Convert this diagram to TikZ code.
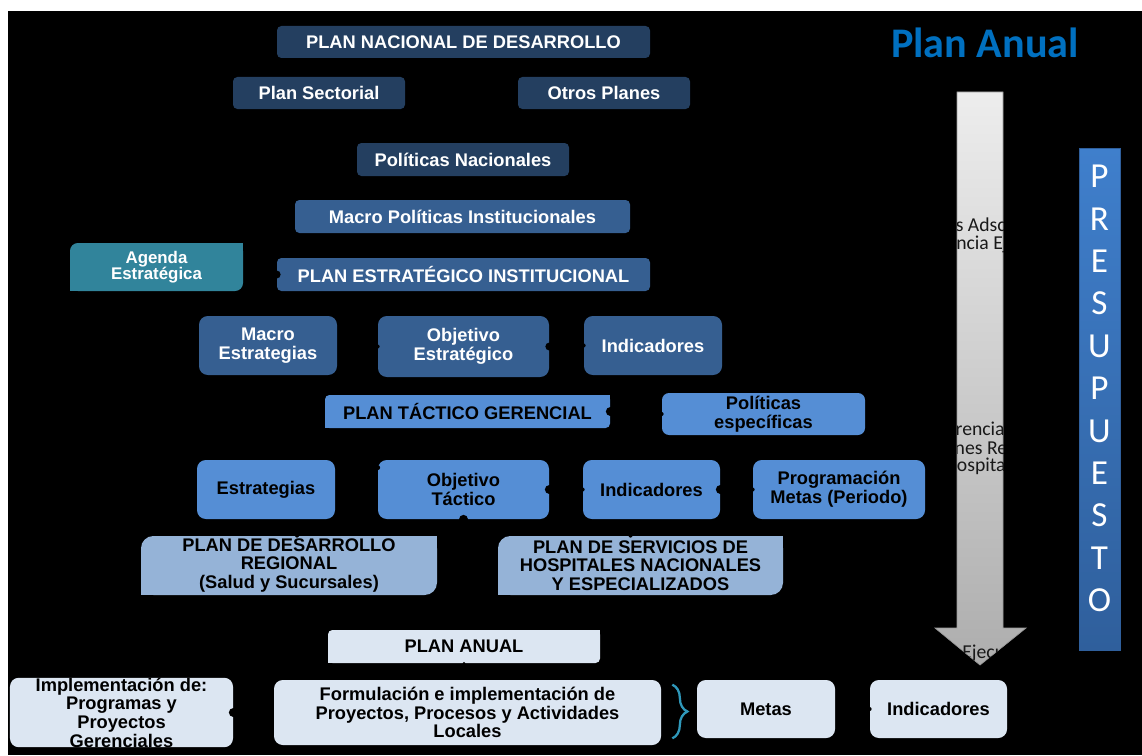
\documentclass[tikz,border=0pt]{standalone}
\usepackage{fontspec}
\setmainfont{Liberation Sans}
\newfontfamily\calibri{Carlito}
\usetikzlibrary{positioning,calc,decorations.pathreplacing}

\definecolor{darkplan}{HTML}{243F60}
\definecolor{midplan}{HTML}{365F91}
\definecolor{tealplan}{HTML}{31849B}
\definecolor{tacplan}{HTML}{558ED5}
\definecolor{regplan}{HTML}{95B3D7}
\definecolor{anualplan}{HTML}{DCE6F2}
\definecolor{braceteal}{HTML}{2F98BA}
\definecolor{titleblue}{HTML}{0070C0}
\definecolor{prestop}{HTML}{3F7FCC}
\definecolor{presbottom}{HTML}{2F5F9C}

% fill two corners square again (diagonal rounded boxes)
\newcommand\sharpcorners[3]{%
  \fill[#2] (#1.north east) rectangle ++(-#3,#3);
  \fill[#2] (#1.south west) rectangle ++(#3,-#3);}

\begin{document}
\begin{tikzpicture}[x=1cm, y=-1cm,
  plan/.style={fill=#1, text=white, rounded corners=2.5pt, minimum height=0.64cm, inner sep=0pt, align=center, font=\fontsize{10.4}{10.6}\selectfont\bfseries},
  block/.style={plan=#1, rounded corners=5pt, minimum height=1.18cm},
  notch/.style={fill=black},
  fragment/.style={font=\calibri\fontsize{11.2}{11}\selectfont, text=black!90, inner sep=0pt}
]
  \useasboundingbox[fill=white] (0,0) rectangle (22.84,15.10);
  \fill[black] (0.16,0.22) rectangle (22.84,15.10);

  % Plan Anual title
  \node[font=\calibri\bfseries\fontsize{24}{24}\selectfont, text=titleblue] (titulo) at (19.70,0.86) {Plan Anual};

  % national level
  \node[plan=darkplan, minimum width=7.46cm] (pnd) at (9.27,0.84) {PLAN NACIONAL DE DESARROLLO};
  \node[plan=darkplan, minimum width=3.44cm] (sectorial) at (6.38,1.86) {Plan Sectorial};
  \node[plan=darkplan, minimum width=3.44cm] (otros) at (12.08,1.86) {Otros Planes};
  \node[plan=darkplan, minimum width=4.24cm, minimum height=0.66cm] (polnac) at (9.26,3.19) {Políticas Nacionales};
  \node[plan=midplan, minimum width=6.70cm, minimum height=0.66cm] (macropol) at (9.25,4.33) {Macro Políticas Institucionales};

  % strategic level
  \node[plan=tealplan, rounded corners=4.5pt, minimum width=3.46cm, minimum height=0.96cm, font=\fontsize{9.6}{9.2}\selectfont\bfseries] (agenda) at (3.13,5.34) {Agenda\\Estratégica};
  \node[plan=midplan, minimum width=7.46cm, minimum height=0.66cm] (pei) at (9.27,5.49) {PLAN ESTRATÉGICO INSTITUCIONAL};
  \node[block=midplan, minimum width=2.76cm] (macroest) at (5.36,6.91) {Macro\\Estrategias};
  \node[block=midplan, minimum width=3.42cm, minimum height=1.22cm] (objest) at (9.27,6.93) {Objetivo\\Estratégico};
  \node[block=midplan, minimum width=2.76cm] (ind1) at (13.06,6.91) {Indicadores};

  % tactical level
  \node[plan=tacplan, text=black, minimum width=5.70cm, minimum height=0.66cm] (ptg) at (9.35,8.23) {PLAN TÁCTICO GERENCIAL};
  \node[plan=tacplan, text=black, rounded corners=4pt, minimum width=4.06cm, minimum height=0.84cm] (polesp) at (15.27,8.28) {Políticas\\específicas};
  \node[block=tacplan, text=black, minimum width=2.76cm] (estr) at (5.32,9.79) {Estrategias};
  \node[block=tacplan, text=black, minimum width=3.42cm] (objtac) at (9.27,9.79) {Objetivo\\Táctico};
  \node[block=tacplan, text=black, minimum width=2.74cm] (ind2) at (13.03,9.79) {Indicadores};
  \node[block=tacplan, text=black, minimum width=3.44cm] (prog) at (16.78,9.79) {Programación\\Metas (Periodo)};

  % operative level
  \node[block=regplan, text=black, rounded corners=7pt, minimum width=5.92cm] (pdr) at (5.78,11.31) {PLAN DE DESARROLLO\\REGIONAL\\(Salud y Sucursales)};
  \node[block=regplan, text=black, rounded corners=7pt, minimum width=5.70cm] (phn) at (12.81,11.31) {PLAN DE SERVICIOS DE\\HOSPITALES NACIONALES\\Y ESPECIALIZADOS};
  \node[plan=anualplan, text=black, minimum width=5.44cm, minimum height=0.66cm] (panual) at (9.28,12.93) {PLAN ANUAL};
  \node[block=anualplan, text=black, minimum width=4.46cm, minimum height=1.30cm] (impl) at (2.43,14.25) {Implementación de:\\Programas y\\Proyectos\\Gerenciales};
  \node[block=anualplan, text=black, minimum width=7.74cm, minimum height=1.30cm] (form) at (9.35,14.25) {Formulación e implementación de\\Proyectos, Procesos y Actividades\\Locales};
  \node[block=anualplan, text=black, minimum width=2.76cm, minimum height=1.16cm] (metas) at (15.32,14.18) {Metas};
  \node[block=anualplan, text=black, minimum width=2.74cm, minimum height=1.16cm] (ind3) at (18.77,14.18) {Indicadores};

  \sharpcorners{agenda}{tealplan}{0.2}
  \sharpcorners{ptg}{tacplan}{0.12}
  \sharpcorners{pdr}{regplan}{0.3}
  \sharpcorners{phn}{regplan}{0.3}
  \sharpcorners{panual}{anualplan}{0.12}

  % notches
  \foreach \a/\r in {pei.west/0.08, objest.east/0.08, objest.west/0.04, ind1.west/0.04,
                     ptg.east/0.09, polesp.west/0.04, objtac.east/0.09, objtac.south/0.09,
                     ind2.west/0.04, ind2.east/0.09, prog.west/0.04, panual.south/0.03,
                     impl.east/0.09, ind3.west/0.04}
    \fill[notch] (\a) circle[radius=\r];
  \fill[notch] ([yshift=-0.16cm]objtac.north west) circle[radius=0.05];
  \fill[notch] ([xshift=0.16cm]pdr.north) circle[radius=0.04];
  \fill[notch] ([xshift=-0.2cm]phn.north) circle[radius=0.04];

  % brace
  \draw[braceteal, line width=1.3pt, decorate, decoration={brace, amplitude=0.3cm}]
    ([xshift=0.22cm, yshift=-0.1cm]form.north east) -- ([xshift=0.22cm, yshift=0.14cm]form.south east);

  % big arrow
  \coordinate (a1) at (19.14,1.84);
  \coordinate (a2) at (20.06,1.84);
  \coordinate (a3) at (20.06,12.56);
  \coordinate (a4) at (20.52,12.56);
  \coordinate (a5) at (19.60,13.30);
  \coordinate (a6) at (18.70,12.56);
  \coordinate (a7) at (19.14,12.56);
  \shade[top color=black!7, bottom color=black!32, draw=black!40, line width=0.4pt]
    (a1) -- (a2) -- (a3) -- (a4) -- (a5) -- (a6) -- (a7) -- cycle;
  \begin{scope}
    \clip (a1) -- (a2) -- (a3) -- (a4) -- (a5) -- (a6) -- (a7) -- cycle;
    \node[fragment, anchor=east] (adsc) at (20.12,4.50) {s Adsc};
    \node[fragment, anchor=east] (ejec) at (20.16,4.88) {ncia Ej};
    \node[fragment, anchor=east] (renc) at (20.10,8.58) {rencia};
    \node[fragment, anchor=east] (nesre) at (20.15,8.96) {nes Re};
    \node[fragment, anchor=east] (hosp) at (20.12,9.32) {ospita};
    \node[fragment, anchor=west] (ejecu) at (19.24,13.06) {Ejecu};
  \end{scope}

  % budget bar
  \node[draw=presbottom, top color=prestop, bottom color=presbottom, minimum width=0.82cm, minimum height=10.04cm, inner sep=0pt] (pres) at (21.99,7.98) {};
  \node[text=white, font=\calibri\fontsize{20}{24.1}\selectfont, align=center, inner sep=0pt] (presletras) at (21.99,7.77) {P\\R\\E\\S\\U\\P\\U\\E\\S\\T\\O};
\end{tikzpicture}
\end{document}
